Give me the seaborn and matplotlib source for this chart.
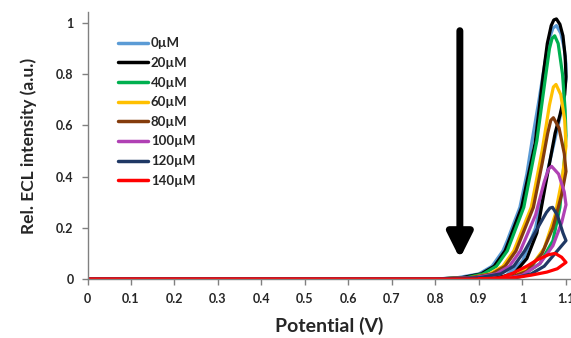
import matplotlib
matplotlib.use("Agg")
import matplotlib.pyplot as plt
import seaborn as sns
import pandas as pd

# ---- data (potential in V, relative ECL intensity) ----
labels = ["0µM", "20µM", "40µM", "60µM", "80µM", "100µM", "120µM", "140µM"]
colors = ["#5B9BD5", "#000000", "#00B050", "#FFC000", "#843C0C", "#B041B4", "#1F3864", "#FF0000"]

x_0 = [0.0, 0.80, 0.85, 0.90, 0.93, 0.955, 0.965, 0.994, 1.010, 1.022, 1.038, 1.052, 1.062, 1.070, 1.078,
       1.088, 1.096, 1.100, 1.100, 1.090, 1.075, 1.052, 1.030, 1.000, 0.960, 0.900]
y_0 = [0.0, 0.0, 0.005, 0.02, 0.05, 0.11, 0.15, 0.28, 0.41, 0.54, 0.70, 0.85, 0.94, 0.98, 0.99,
       0.96, 0.90, 0.84, 0.78, 0.66, 0.55, 0.38, 0.20, 0.07, 0.01, 0.0]

x_20 = [0.0, 0.80, 0.86, 0.905, 0.935, 0.96, 0.998, 1.014, 1.029, 1.047, 1.057, 1.066, 1.072, 1.078,
        1.086, 1.093, 1.098, 1.100, 1.097, 1.086, 1.075, 1.052, 1.033, 1.010, 0.980, 0.930]
y_20 = [0.0, 0.0, 0.005, 0.02, 0.05, 0.11, 0.28, 0.41, 0.53, 0.79, 0.92, 0.99, 1.012, 1.016,
        0.995, 0.95, 0.87, 0.79, 0.72, 0.64, 0.57, 0.36, 0.18, 0.08, 0.02, 0.0]

x_40 = [0.0, 0.80, 0.87, 0.91, 0.94, 0.965, 1.003, 1.033, 1.053, 1.062, 1.068, 1.074,
        1.082, 1.092, 1.098, 1.100, 1.096, 1.086, 1.070, 1.040, 1.000, 0.950]
y_40 = [0.0, 0.0, 0.005, 0.02, 0.05, 0.11, 0.28, 0.54, 0.79, 0.90, 0.94, 0.95,
        0.92, 0.80, 0.66, 0.56, 0.46, 0.28, 0.15, 0.06, 0.015, 0.0]

x_60 = [0.0, 0.80, 0.88, 0.925, 0.955, 0.98, 1.020, 1.045, 1.062, 1.071, 1.077,
        1.088, 1.097, 1.100, 1.092, 1.075, 1.050, 1.020, 0.980, 0.940]
y_60 = [0.0, 0.0, 0.005, 0.02, 0.05, 0.11, 0.28, 0.50, 0.68, 0.75, 0.76,
        0.72, 0.62, 0.52, 0.40, 0.25, 0.12, 0.05, 0.01, 0.0]

x_80 = [0.0, 0.80, 0.88, 0.93, 0.96, 0.985, 1.025, 1.045, 1.058, 1.065, 1.071,
        1.084, 1.096, 1.100, 1.090, 1.070, 1.045, 1.010, 0.970, 0.940]
y_80 = [0.0, 0.0, 0.005, 0.02, 0.05, 0.11, 0.28, 0.45, 0.57, 0.62, 0.63,
        0.59, 0.49, 0.42, 0.33, 0.20, 0.10, 0.03, 0.005, 0.0]

x_100 = [0.0, 0.80, 0.89, 0.94, 0.97, 0.995, 1.030, 1.050, 1.060, 1.067,
         1.083, 1.096, 1.100, 1.090, 1.070, 1.040, 1.000, 0.960]
y_100 = [0.0, 0.0, 0.005, 0.02, 0.05, 0.11, 0.25, 0.38, 0.43, 0.44,
         0.41, 0.34, 0.29, 0.22, 0.13, 0.06, 0.015, 0.0]

x_120 = [0.0, 0.80, 0.90, 0.95, 0.98, 1.005, 1.035, 1.055, 1.063, 1.069,
         1.080, 1.093, 1.100, 1.090, 1.075, 1.050, 1.020, 0.980]
y_120 = [0.0, 0.0, 0.005, 0.02, 0.05, 0.11, 0.20, 0.26, 0.277, 0.28,
         0.25, 0.18, 0.15, 0.13, 0.10, 0.05, 0.02, 0.003]

x_140 = [0.0, 0.90, 0.95, 0.978, 1.010, 1.033, 1.060, 1.075,
         1.090, 1.100, 1.080, 1.056, 1.020, 0.994, 0.960, 0.900]
y_140 = [0.0, 0.0, 0.005, 0.023, 0.05, 0.074, 0.095, 0.10,
         0.085, 0.065, 0.04, 0.027, 0.015, 0.008, 0.002, 0.0]

xs = [x_0, x_20, x_40, x_60, x_80, x_100, x_120, x_140]
ys = [y_0, y_20, y_40, y_60, y_80, y_100, y_120, y_140]

x_ticks = [0, 0.1, 0.2, 0.3, 0.4, 0.5, 0.6, 0.7, 0.8, 0.9, 1.0, 1.1]
x_tick_labels = ["0", "0.1", "0.2", "0.3", "0.4", "0.5", "0.6", "0.7", "0.8", "0.9", "1", "1.1"]
y_ticks = [0, 0.2, 0.4, 0.6, 0.8, 1.0]
y_tick_labels = ["0", "0.2", "0.4", "0.6", "0.8", "1"]

# ---- build long table ----
rows = []
for lab, xx, yy in zip(labels, xs, ys):
    for i, (a, b) in enumerate(zip(xx, yy)):
        rows.append({"conc": lab, "order": i, "E": a, "I": b})
df = pd.DataFrame(rows)

sns.set_style("white")
plt.rcParams["font.family"] = ["Lato", "DejaVu Sans"]

fig = plt.figure(figsize=(5.71, 3.38), dpi=100)
ax = fig.add_axes([87.5 / 571, 59 / 338, (571 - 87.5) / 571, 267 / 338])

for lab, col in zip(labels, colors):
    sub = df[df["conc"] == lab]
    sns.lineplot(data=sub, x="E", y="I", sort=False, estimator=None, color=col,
                 lw=2.3, ax=ax, label=lab)
for ln in ax.get_lines():
    ln.set_solid_joinstyle("round")

ax.set_xlim(0, 1.1115)
ax.set_ylim(0, 1.043)
ax.set_xticks(x_ticks)
ax.set_xticklabels(x_tick_labels, fontsize=9, fontweight="bold")
ax.set_yticks(y_ticks)
ax.set_yticklabels(y_tick_labels, fontsize=9, fontweight="bold")
ax.tick_params(axis="both", direction="out", length=4, width=1, color="#808080",
               pad=6, bottom=True, left=True)
for s in ["top", "right"]:
    ax.spines[s].set_visible(False)
for s in ["left", "bottom"]:
    ax.spines[s].set_color("#808080")
    ax.spines[s].set_linewidth(1)

ax.set_xlabel("Potential (V)", fontsize=14, fontweight="bold", labelpad=9)
ax.set_ylabel("Rel. ECL intensity (a.u.)", fontsize=12.5, fontweight="bold", labelpad=14)

# arrow indicating decrease
arrow_x, arrow_top, arrow_tip = 0.856, 0.97, 0.08
ax.annotate("", xy=(arrow_x, arrow_tip), xytext=(arrow_x, arrow_top),
            arrowprops=dict(arrowstyle="-|>", lw=5, color="black", mutation_scale=38,
                            shrinkA=0, shrinkB=0))

leg = ax.legend(loc="upper left", bbox_to_anchor=(0.038, 0.95), frameon=False,
                handlelength=2.3, handletextpad=0.2, labelspacing=0.58,
                prop={"weight": "bold", "size": 9.5})
for h in leg.get_lines():
    h.set_linewidth(2.5)

fig.savefig("out.png", dpi=100)
